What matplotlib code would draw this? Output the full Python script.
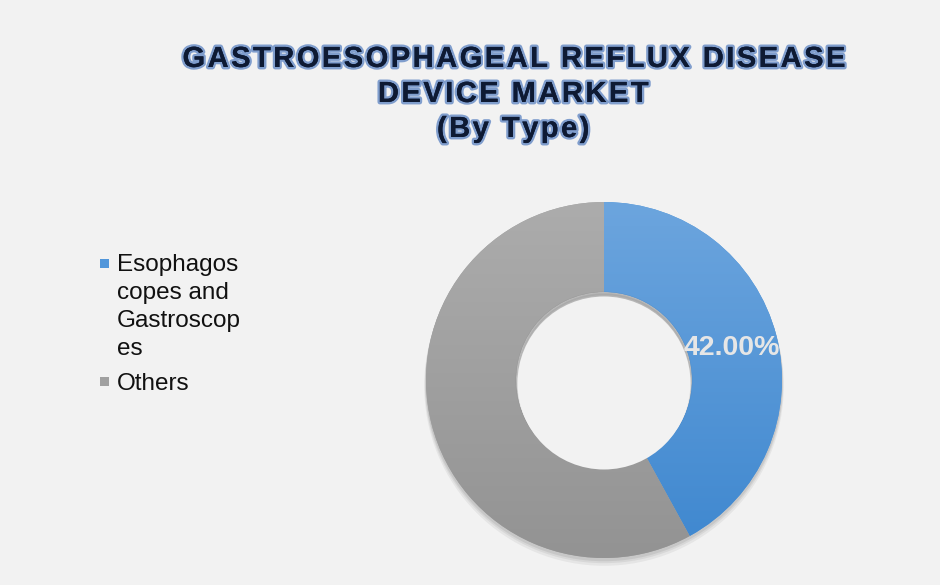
import numpy as np
import matplotlib
matplotlib.use("Agg")
import matplotlib.pyplot as plt
import matplotlib.patheffects as pe
from matplotlib.colors import LinearSegmentedColormap

# ---- data ----
categories = ["Esophagoscopes and Gastroscopes", "Others"]
legend_labels = [["Esophagos", "copes and", "Gastroscop", "es"], ["Others"]]
values = [42.0, 58.0]
value_labels = ["42.00%", ""]
title_lines = ["GASTROESOPHAGEAL REFLUX DISEASE", "DEVICE MARKET", "(By Type)"]

top_colors = ["#6ca5de", "#acacac"]
bottom_colors = ["#3e87cf", "#939393"]
legend_colors = ["#5196da", "#a0a0a0"]

W, H = 940, 585
fig = plt.figure(figsize=(W / 100, H / 100), dpi=100)
fig.patch.set_facecolor("#f2f2f2")

# title (slight letter spacing with hair spaces)
for line, y in zip(title_lines, [59, 94, 129]):
    spaced = "\u200a".join(line)
    fig.text(513 / W, 1 - y / H, spaced, ha="center", va="center",
             fontsize=21, fontweight="bold", family=["Liberation Sans", "DejaVu Sans"],
             color="#0e1a33",
             path_effects=[pe.withStroke(linewidth=3.5, foreground="#3566b5", alpha=0.6),
                           pe.Normal()])

# donut axes: 400x400 px box centred at (604, 380)
cx, cy = 604, 380
ax = fig.add_axes([(cx - 200) / W, (H - cy - 200) / H, 400 / W, 400 / H])
ax.axis("off")

R = 178
width = 90

# soft shadow
for dr, a in [(6, 0.05), (4, 0.06), (2.5, 0.07)]:
    ax.pie([1], radius=R + dr * 0.3, center=(0, -dr),
           colors=["black"], wedgeprops=dict(width=width + dr * 0.6, alpha=a, linewidth=0))

wedges, _ = ax.pie(values, radius=R, startangle=90, counterclock=False,
                   colors=legend_colors,
                   wedgeprops=dict(width=width, linewidth=0))

# gradient fill clipped to wedges
for w, tc, bc in zip(wedges, top_colors, bottom_colors):
    cmap = LinearSegmentedColormap.from_list("g", [bc, tc])
    grad = np.linspace(0, 1, 256).reshape(-1, 1)
    im = ax.imshow(grad, cmap=cmap, origin="lower", extent=[-R, R, -R, R],
                   aspect="auto", zorder=2)
    im.set_clip_path(w)

# inner hole shadow (top edge)
for r_off, a in [(0.5, 0.04), (-0.5, 0.05), (-1.5, 0.06)]:
    c = plt.Circle((0, 0), R - width + r_off, color="black", alpha=a, zorder=3, linewidth=0)
    ax.add_patch(c)
hole = plt.Circle((0, -3), R - width - 1.5, color="#f2f2f2", zorder=4, linewidth=0)
ax.add_patch(hole)

# data label
ang = np.deg2rad(90 - values[0] / 100 * 360 / 2)
rl = R - width / 2
ax.text(rl * np.cos(ang) - 1, rl * np.sin(ang) - 1, value_labels[0],
        ha="center", va="center", fontsize=20.5, fontweight="bold",
        family="Liberation Sans", color="#e6e6e6", zorder=6)

ax.set_xlim(-200, 200)
ax.set_ylim(-200, 200)
ax.set_aspect("equal")
ax.axis("off")

# legend
ys = [263, 381]
for lines, col, y in zip(legend_labels, legend_colors, ys):
    fig.patches.append(matplotlib.patches.Rectangle(
        (100 / W, 1 - (y + 5) / H), 9 / W, 9 / H, transform=fig.transFigure,
        facecolor=col, edgecolor="none"))
    for i, t in enumerate(lines):
        fig.text(117 / W, 1 - (y + i * 27.7) / H, t, ha="left", va="center_baseline",
                 fontsize=17.5, family="Liberation Sans", color="#111111")

fig.savefig("out.png", dpi=100, facecolor=fig.get_facecolor())
